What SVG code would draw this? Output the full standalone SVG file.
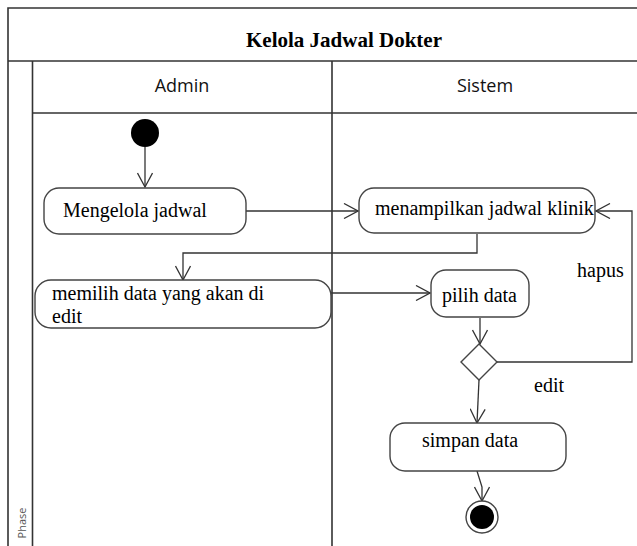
<svg xmlns="http://www.w3.org/2000/svg" width="637" height="546" viewBox="0 0 637 546">
  <style>
    .frame { stroke: #333; stroke-width: 1.6; fill: none; }
    .act { fill: #fff; stroke: #444; stroke-width: 1.4; }
    .lbl { font-family: "Liberation Serif", "Times New Roman", serif; font-size: 20px; fill: #000; }
    .hdr { font-family: "Open Sans", "Noto Sans", sans-serif; font-size: 18px; fill: #111; text-anchor: middle; }
    .edge { stroke: #333; stroke-width: 1.3; fill: none; }
  </style>
  <defs>
    <marker id="open-arrow" viewBox="0 0 16 16" refX="15" refY="8" markerWidth="16" markerHeight="16" markerUnits="userSpaceOnUse" orient="auto">
      <path d="M1,0.5 L15,8 L1,15.5" fill="none" stroke="#333" stroke-width="1.3"/>
    </marker>
  </defs>

  <rect width="637" height="546" fill="#fff"/>

  <!-- swimlane frame -->
  <g id="frame">
    <path class="frame" d="M8,546 V8 H637"/>
    <path class="frame" d="M8,61 H637"/>
    <path class="frame" d="M32.5,61 V546"/>
    <path class="frame" d="M32.5,113 H637"/>
    <path class="frame" d="M332,61 V546"/>
    <text x="344" y="47" text-anchor="middle" style="font-family: 'Liberation Serif', 'Times New Roman', serif; font-size: 21px; font-weight: bold; fill: #000;">Kelola Jadwal Dokter</text>
    <text class="hdr" x="182" y="92">Admin</text>
    <text class="hdr" x="485" y="92">Sistem</text>
    <text transform="translate(26,523) rotate(-90)" text-anchor="middle" style="font-family: 'Open Sans', 'Noto Sans', sans-serif; font-size: 11px; fill: #555;">Phase</text>
  </g>

  <!-- connectors -->
  <g id="connectors">
    <path class="edge" d="M145,147 V187" marker-end="url(#open-arrow)"/>
    <path class="edge" d="M246,211 H358" marker-end="url(#open-arrow)"/>
    <path class="edge" d="M477,234 V253 H183 V280" marker-end="url(#open-arrow)"/>
    <path class="edge" d="M331,293 H430" marker-end="url(#open-arrow)"/>
    <path class="edge" d="M480,318 V344" marker-end="url(#open-arrow)"/>
    <path class="edge" d="M497,362 H632 V211 H596" marker-end="url(#open-arrow)"/>
    <path class="edge" d="M479,380 L477,423" marker-end="url(#open-arrow)"/>
    <path class="edge" d="M477,471 L482,487 V501" marker-end="url(#open-arrow)"/>
    <text class="lbl" x="577" y="277">hapus</text>
    <text class="lbl" x="534" y="392">edit</text>
  </g>

  <g id="start">
    <circle cx="145" cy="133" r="14" fill="#000"/>
  </g>

  <g id="mengelola-jadwal">
    <rect class="act" x="44" y="188" width="202" height="46" rx="15"/>
    <text class="lbl" x="63" y="217">Mengelola jadwal</text>
  </g>

  <g id="menampilkan-jadwal">
    <rect class="act" x="359" y="188" width="236" height="45" rx="15"/>
    <text class="lbl" x="375" y="215">menampilkan jadwal klinik</text>
  </g>

  <g id="memilih-data">
    <rect class="act" x="35" y="280" width="296" height="48" rx="16"/>
    <text class="lbl" x="52" y="300">memilih data yang akan di</text>
    <text class="lbl" x="52" y="323">edit</text>
  </g>

  <g id="pilih-data">
    <rect class="act" x="431" y="270" width="98" height="47" rx="15"/>
    <text class="lbl" x="442" y="302">pilih data</text>
  </g>

  <g id="decision">
    <polygon class="act" points="479,344 497,362 479,380 461,362"/>
  </g>

  <g id="simpan-data">
    <rect class="act" x="390" y="423" width="176" height="48" rx="15"/>
    <text class="lbl" x="422" y="447">simpan data</text>
  </g>

  <g id="end">
    <circle cx="482" cy="517" r="16" fill="#fff" stroke="#444" stroke-width="1.4"/>
    <circle cx="482" cy="517" r="12" fill="#000"/>
  </g>
</svg>
